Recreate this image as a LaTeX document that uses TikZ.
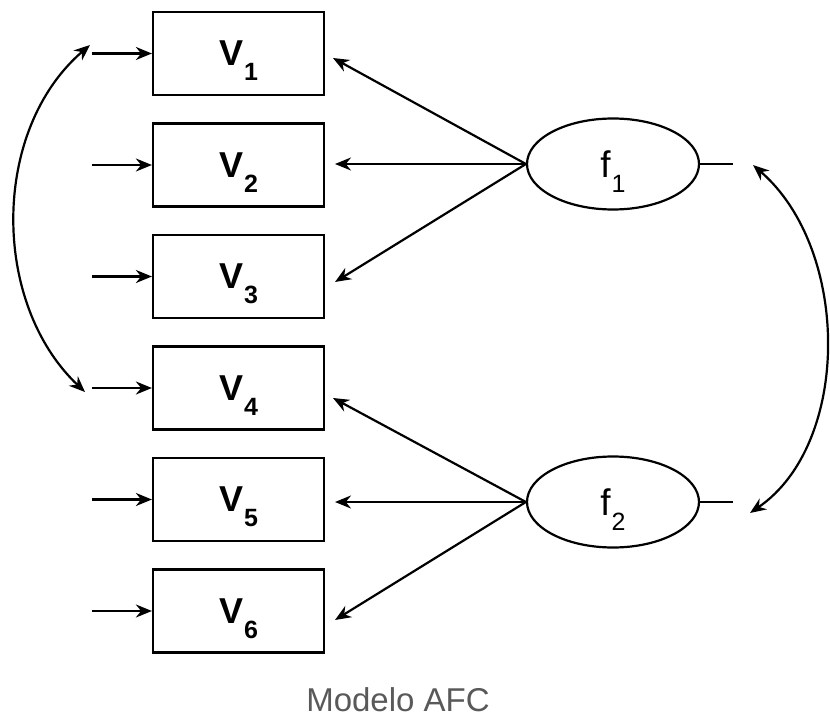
\documentclass[tikz,border=0pt]{standalone}
\usepackage{fontspec}
\setmainfont{Liberation Sans}
\usetikzlibrary{shapes.geometric,arrows.meta}
\newcommand\mysub[1]{\kern1pt\raisebox{-15pt}[0pt][0pt]{\fontsize{25}{25}\selectfont #1}}
\begin{document}
\begin{tikzpicture}[x=1pt,y=-1pt,
 vbox/.style={draw,line width=2.2pt,minimum width=171pt,minimum height=83pt,inner sep=0pt,font=\bfseries\fontsize{36}{40}\selectfont},
 fac/.style={draw,ellipse,line width=2.2pt,minimum width=172pt,minimum height=91pt,inner sep=0pt,font=\fontsize{37}{40}\selectfont},
 arr/.style={line width=2.2pt,-{Stealth[length=16pt,width=13pt]}},
 barr/.style={line width=2.2pt,{Stealth[length=16pt,width=13pt]}-{Stealth[length=16pt,width=13pt]}},
 ln/.style={line width=2.2pt}]
\useasboundingbox (0,0) rectangle (830,722);
\node[vbox] (v1) at (238.5,53.5) {V\mysub{1}};
\node[vbox] (v2) at (238.5,165) {V\mysub{2}};
\node[vbox] (v3) at (238.5,276.5) {V\mysub{3}};
\node[vbox] (v4) at (238.5,388) {V\mysub{4}};
\node[vbox] (v5) at (238.5,499.5) {V\mysub{5}};
\node[vbox] (v6) at (238.5,611) {V\mysub{6}};
\node[fac] (f1) at (613,164) {f\mysub{1}};
\node[fac] (f2) at (613,502) {f\mysub{2}};
% error arrows
\foreach \i in {1,...,6}{
  \coordinate (e\i) at ([xshift=-60pt]v\i.west);
  \draw[arr] (e\i) -- (v\i.west);
}
% loadings
\coordinate (t1) at (333,58);
\coordinate (t2) at (335,164);
\coordinate (t3) at (335,282);
\coordinate (t4) at (333,398);
\coordinate (t5) at (335,502);
\coordinate (t6) at (335,620);
\foreach \i in {1,2,3}{\draw[arr] (f1.west) -- (t\i);}
\foreach \i in {4,5,6}{\draw[arr] (f2.west) -- (t\i);}
% factor stubs
\coordinate (s1) at (733,164);
\coordinate (s2) at (733,502);
\draw[ln] (f1.east) -- (s1);
\draw[ln] (f2.east) -- (s2);
% covariances
\coordinate (a1) at (90,45);
\coordinate (a2) at (85,392);
\draw[barr] (a1) .. controls (-9,130) and (-9,303) .. (a2);
\coordinate (b1) at (753,165);
\coordinate (b2) at (750,513);
\draw[barr] (b1) .. controls (851,250) and (851,444) .. (b2);
\node[text=black!65,font=\fontsize{33}{36}\selectfont] (cap) at (398,700) {Modelo AFC};
\end{tikzpicture}
\end{document}
